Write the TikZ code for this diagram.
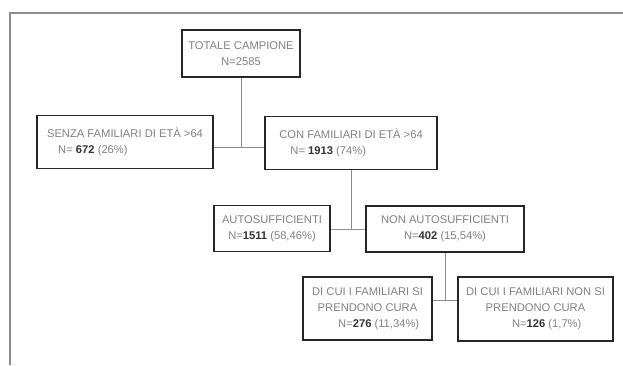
\documentclass[tikz,border=0pt]{standalone}
\usepackage{fontspec}
\setmainfont{Liberation Sans}
\tikzstyle{category}=[draw=black!85, line width=1.1pt, text=black!50, font=\fontsize{8.4}{12}\selectfont, inner sep=2pt]
\tikzstyle{link}=[draw=black!45, line width=0.6pt]
\tikzstyle{frame}=[draw=black!45, line width=0.8pt]
\newcommand{\cnt}[1]{\textcolor{black!80}{\textbf{#1}}}

\begin{document}
\begin{tikzpicture}[x=0.75pt, y=-0.75pt]
          \useasboundingbox (0, 0) rectangle (623, 365);
          \draw[frame] (623, 13) -- (10, 13) -- (10, 365);

          \node[category, minimum width=88.5pt, minimum height=35pt, align=center] (totale) at (241, 53.5)
            {TOTALE CAMPIONE\\N=2585};
          \node[category, minimum width=132pt, minimum height=40pt, align=left] (senza) at (125, 142)
            {SENZA FAMILIARI DI ETÀ >64\\\hspace{1em}N= \cnt{672} (26\%)};
          \node[category, minimum width=129pt, minimum height=40pt, align=left] (con) at (351, 143)
            {CON FAMILIARI DI ETÀ >64\\\hspace{1em}N= \cnt{1913} (74\%)};
          \node[category, minimum width=87pt, minimum height=34.5pt, align=center] (auto) at (272, 228.5)
            {AUTOSUFFICIENTI\\N=\cnt{1511} (58,46\%)};
          \node[category, minimum width=118.5pt, minimum height=34.5pt, align=center] (non) at (445, 229)
            {NON AUTOSUFFICIENTI\\N=\cnt{402} (15,54\%)};
          \node[category, minimum width=97pt, minimum height=47.5pt, align=center] (curasi) at (367.5, 308.5)
            {DI CUI I FAMILIARI SI\\PRENDONO CURA\\\hspace{2em}N=\cnt{276} (11,34\%)};
          \node[category, minimum width=116pt, minimum height=48pt, align=center] (curano) at (535.5, 309)
            {DI CUI I FAMILIARI NON SI\\PRENDONO CURA\\\hspace{2em}N=\cnt{126} (1,7\%)};

          % joints of the tree
          \coordinate (j1) at (241, 147);
          \coordinate (j2) at (351, 229);
          \coordinate (j3) at (445, 300);

          \draw[link] (totale.south) -- (j1);
          \draw[link] (senza.east |- j1) -- (con.west |- j1);
          \draw[link] (con.south) -- (j2);
          \draw[link] (auto.east |- j2) -- (non.west |- j2);
          \draw[link] (non.south) -- (j3);
          \draw[link] (curasi.east |- j3) -- (curano.west |- j3);
        \end{tikzpicture}
\end{document}
